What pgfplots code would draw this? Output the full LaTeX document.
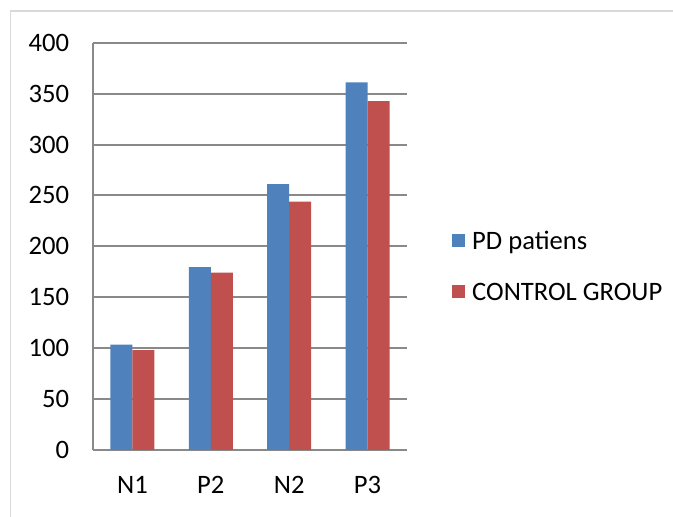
\documentclass[border=0pt]{standalone}
\usepackage{fontspec}
\setmainfont{Carlito}
\usepackage{pgfplots}
\pgfplotsset{compat=1.18}
\definecolor{xblue}{HTML}{4F81BD}
\definecolor{xred}{HTML}{C0504D}
\definecolor{gridc}{HTML}{898989}
\definecolor{framec}{HTML}{D9D9D9}
\begin{document}
\begin{tikzpicture}
\useasboundingbox (0,0) rectangle (673bp,517bp);
\draw[framec, line width=1.5bp] (10.5bp,-2bp) -- (10.5bp,506bp) -- (675bp,506bp);
\begin{axis}[
  at={(93.3bp,67bp)}, anchor=south west,
  scale only axis, width=313.4bp, height=407.3bp,
  ymin=0, ymax=400, ytick={0,50,...,400},
  xmin=-0.5, xmax=3.5, xtick={0,1,2,3}, xticklabels={N1,P2,N2,P3},
  ybar=0pt, bar width=22bp,
  axis lines=left,
  axis line style={gridc, line width=2bp, -},
  ymajorgrids, major grid style={gridc, line width=2bp},
  major tick length=0pt,
  tick label style={font=\fontsize{26.7}{30}\selectfont, inner sep=0pt, /pgf/number format/assume math mode=true},
  yticklabel style={anchor=east, xshift=-24bp},
  xticklabel style={anchor=north, yshift=-26.5bp},
  legend style={at={(1.1445,0.4509)}, anchor=west, draw=none, fill=none, inner sep=0pt, row sep=34bp, column sep=7bp, font=\fontsize{26.7}{30}\selectfont, nodes={inner sep=0pt, text height=17bp, text depth=0pt}},
  legend cell align=left,
  legend image code/.code={\fill[#1, draw=none] (0bp,-6.5bp) rectangle (13bp,6.5bp);},
]
\addplot[fill=xblue, draw=none] coordinates {(0,103.4) (1,179.5) (2,261.1) (3,361.1)};
\addplot[fill=xred, draw=none] coordinates {(0,98.2) (1,174.3) (2,244.0) (3,342.7)};
\legend{PD patiens, CONTROL GROUP}
\end{axis}
\end{tikzpicture}
\end{document}
